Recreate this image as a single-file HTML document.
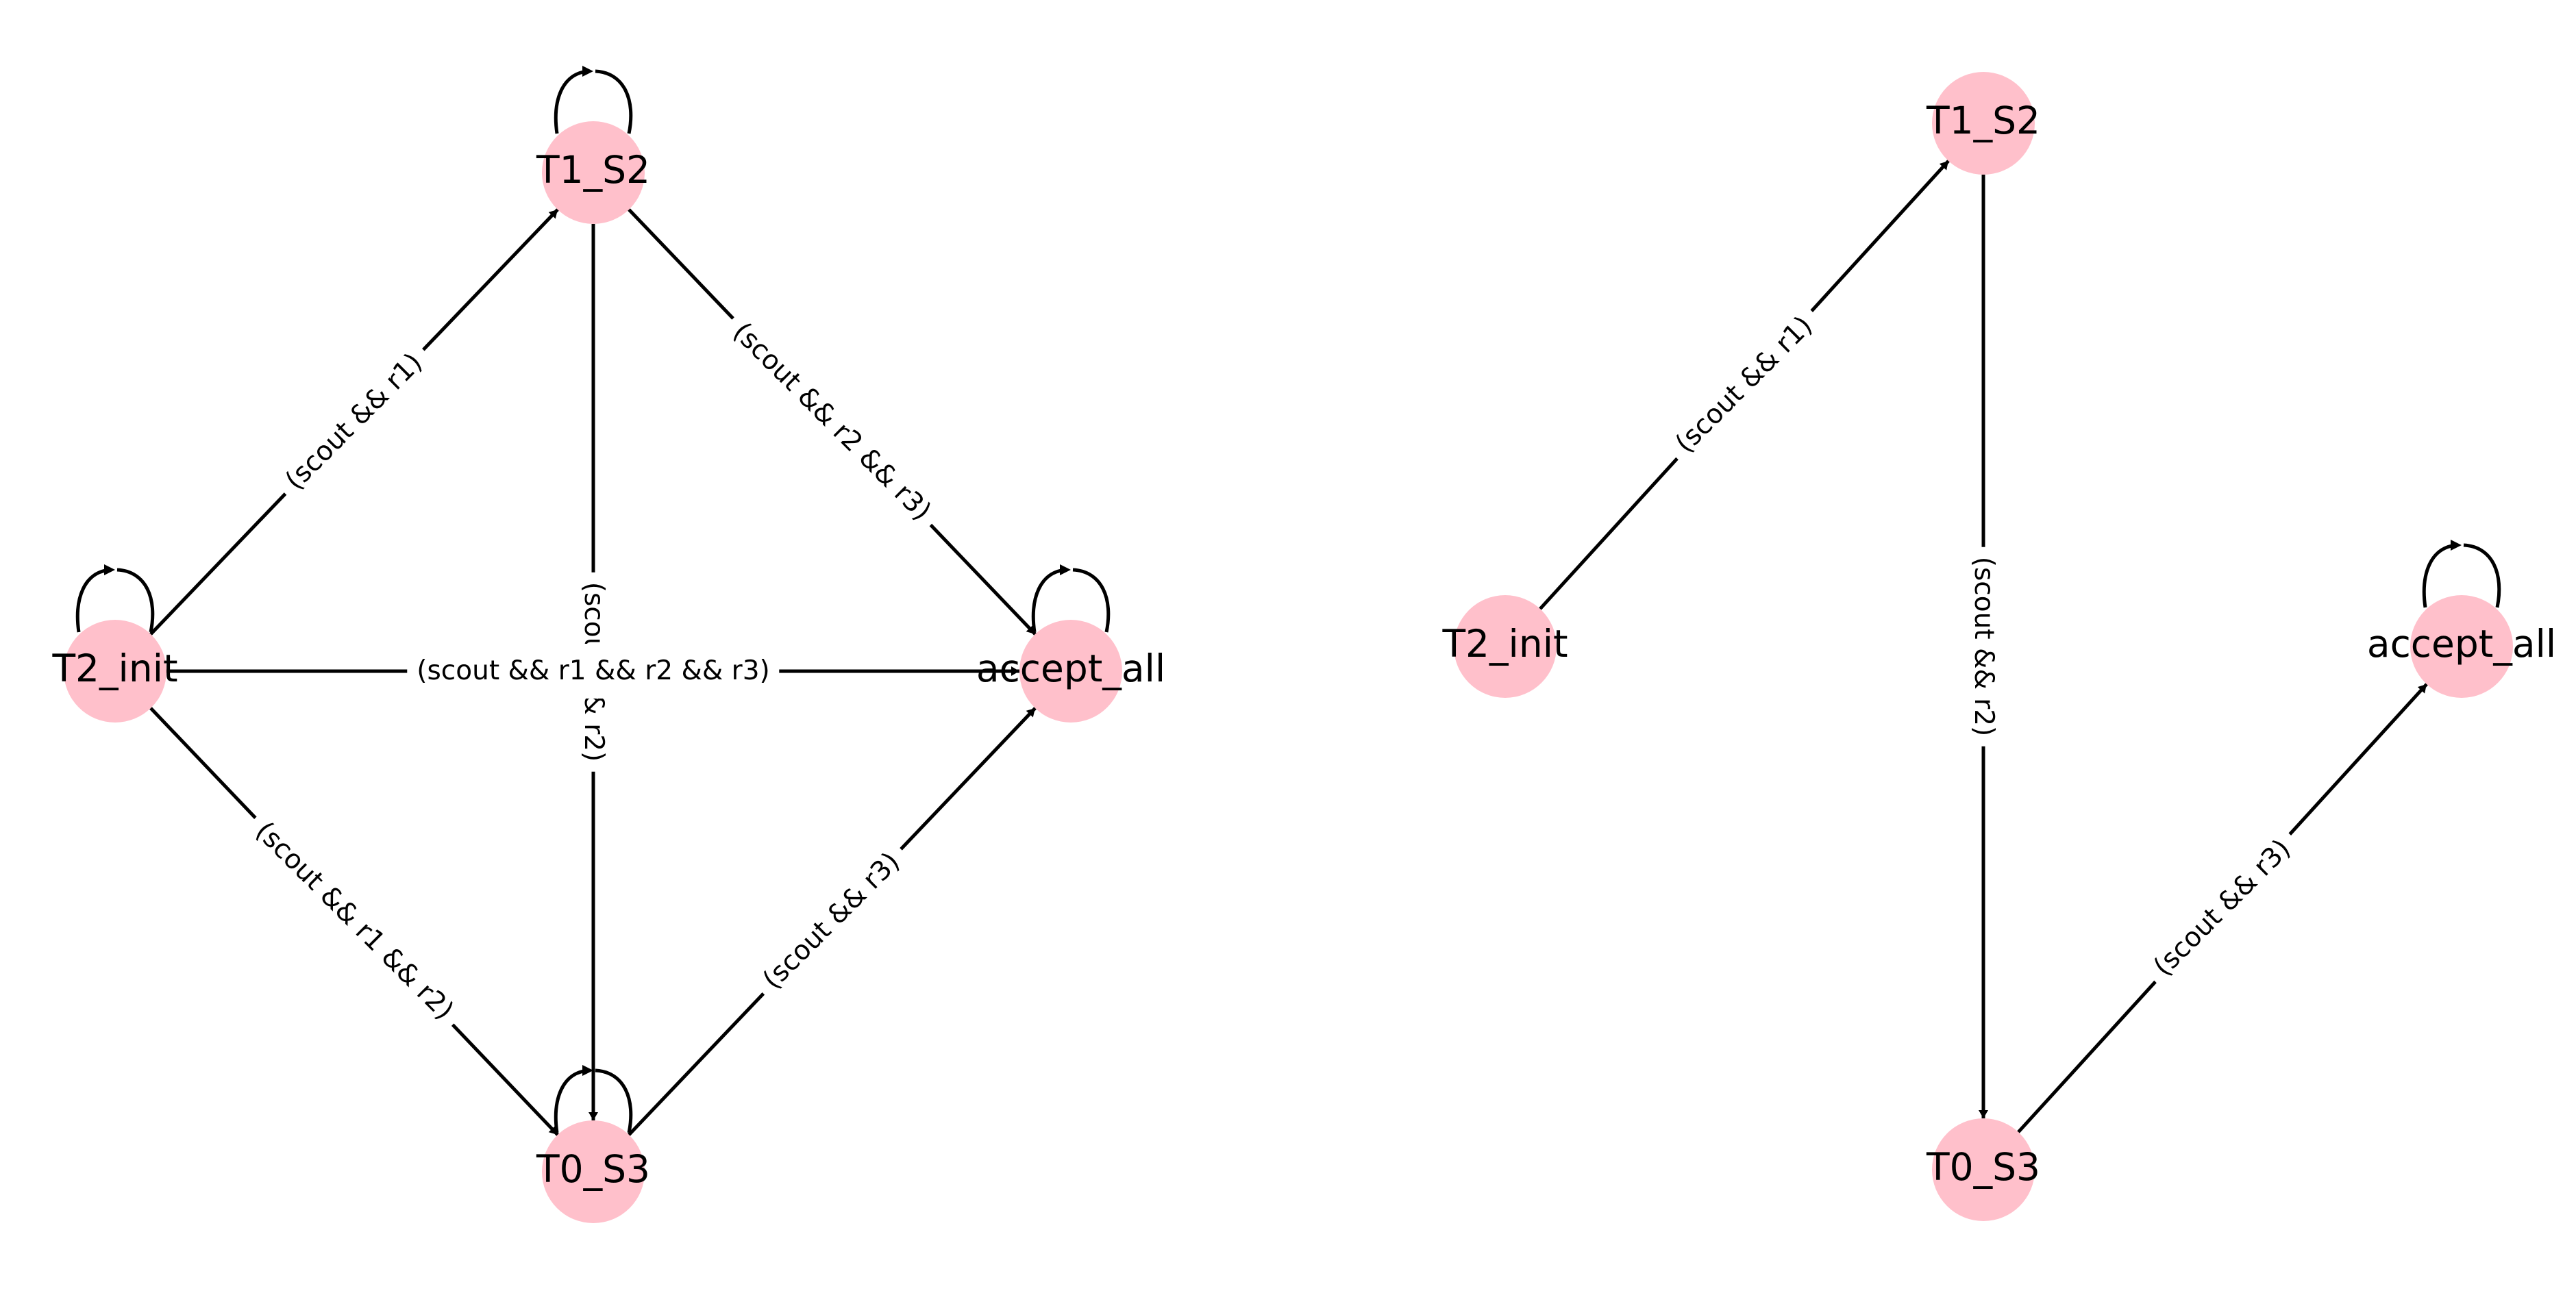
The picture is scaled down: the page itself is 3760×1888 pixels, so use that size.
<!DOCTYPE html>
<html><head><meta charset="utf-8"><style>
html,body{margin:0;padding:0;background:#fff;}
#wrap{position:relative;width:3760px;height:1888px;overflow:hidden;background:#fff;}
svg{position:absolute;left:0;top:0;}
.lbl{position:absolute;font-family:"DejaVu Sans","Liberation Sans",sans-serif;font-size:39px;line-height:44px;background:#fff;padding:18px 14px;white-space:nowrap;color:#000;}
.nl{position:absolute;font-family:"DejaVu Sans","Liberation Sans",sans-serif;font-size:55px;line-height:64px;white-space:nowrap;color:#000;transform:translate(-50%,-50%);}
</style></head><body><div id="wrap">
<svg width="3760" height="1888" viewBox="0 0 3760 1888">
<defs>
<marker id="ah" markerUnits="userSpaceOnUse" markerWidth="20" markerHeight="20" refX="12" refY="8" orient="auto">
<path d="M0,1 L12,8 L0,15 Z" fill="#000"/>
</marker>
<g id="loop" fill="none" stroke="#000" stroke-width="5">
<path d="M-53,-57 C-60,-106 -45,-146 -6,-148"/>
<path d="M3,-148 C45,-146 62,-106 52,-57"/>
<path d="M-16,-156 L0,-148 L-16,-140 Z" fill="#000" stroke="none"/>
</g>
</defs>
<g stroke="#000" stroke-width="5" fill="none" marker-end="url(#ah)">
<line x1="220" y1="926" x2="814" y2="306"/>
<line x1="918" y1="306" x2="1511" y2="926"/>
<line x1="220" y1="1034" x2="814" y2="1657"/>
<line x1="918" y1="1657" x2="1511" y2="1034"/>
<line x1="243" y1="980" x2="1488" y2="980"/>
<line x1="866" y1="327" x2="866" y2="1636"/>
<line x1="2248" y1="889" x2="2844" y2="235"/>
<line x1="2895" y1="255" x2="2895" y2="1633"/>
<line x1="2946" y1="1653" x2="3542" y2="999"/>
</g>
<use href="#loop" x="866" y="252"/>
<use href="#loop" x="168" y="980"/>
<use href="#loop" x="1563" y="980"/>
<use href="#loop" x="866" y="1711"/>
<use href="#loop" x="3593" y="944"/>
<g fill="#ffc0cb">
<circle cx="866" cy="252" r="75"/>
<circle cx="168" cy="980" r="75"/>
<circle cx="1563" cy="980" r="75"/>
<circle cx="866" cy="1711" r="75"/>
<circle cx="2895" cy="180" r="75"/>
<circle cx="2197" cy="944" r="75"/>
<circle cx="3593" cy="944" r="75"/>
<circle cx="2895" cy="1708" r="75"/>
</g>
</svg>
<div class="lbl" style="left:517px;top:616px;transform:translate(-50%,-50%) rotate(-45deg)">(scout &amp;&amp; r1)</div>
<div class="lbl" style="left:1214px;top:616px;transform:translate(-50%,-50%) rotate(45deg)">(scout &amp;&amp; r2 &amp;&amp; r3)</div>
<div class="lbl" style="left:517px;top:1345px;transform:translate(-50%,-50%) rotate(45deg)">(scout &amp;&amp; r1 &amp;&amp; r2)</div>
<div class="lbl" style="left:1214px;top:1345px;transform:translate(-50%,-50%) rotate(-45deg)">(scout &amp;&amp; r3)</div>
<div class="lbl" style="left:866px;top:981px;transform:translate(-50%,-50%) rotate(90deg)">(scout &amp;&amp; r2)</div>
<div class="lbl" style="left:866px;top:980px;transform:translate(-50%,-50%)">(scout &amp;&amp; r1 &amp;&amp; r2 &amp;&amp; r3)</div>
<div class="lbl" style="left:2546px;top:562px;transform:translate(-50%,-50%) rotate(-45deg)">(scout &amp;&amp; r1)</div>
<div class="lbl" style="left:2895px;top:944px;transform:translate(-50%,-50%) rotate(90deg)">(scout &amp;&amp; r2)</div>
<div class="lbl" style="left:3244px;top:1326px;transform:translate(-50%,-50%) rotate(-45deg)">(scout &amp;&amp; r3)</div>
<div class="nl" style="left:866px;top:248px">T1_S2</div>
<div class="nl" style="left:168px;top:976px">T2_init</div>
<div class="nl" style="left:1563px;top:976px">accept_all</div>
<div class="nl" style="left:866px;top:1707px">T0_S3</div>
<div class="nl" style="left:2895px;top:176px">T1_S2</div>
<div class="nl" style="left:2197px;top:940px">T2_init</div>
<div class="nl" style="left:3593px;top:940px">accept_all</div>
<div class="nl" style="left:2895px;top:1704px">T0_S3</div>
</div></body></html>
